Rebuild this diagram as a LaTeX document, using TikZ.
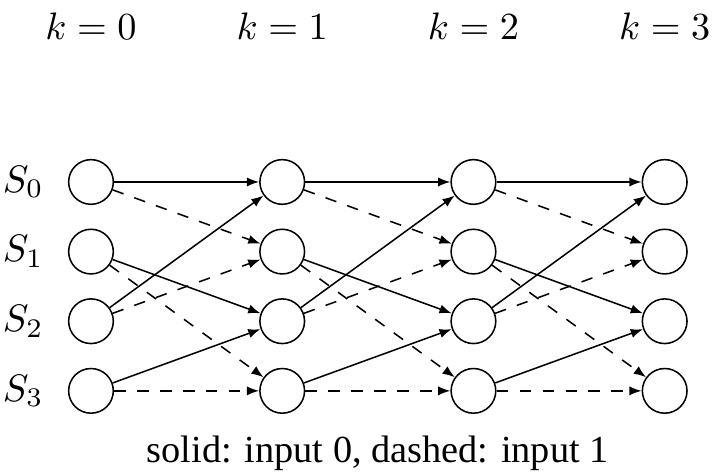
\documentclass[tikz,border=0pt]{standalone}
\usepackage[no-math]{fontspec}
\newfontfamily\captionfont{Liberation Serif}
\usetikzlibrary{positioning,arrows.meta}

\begin{document}
\begin{tikzpicture}[on grid, node distance=6.39mm and 17.55mm, state/.style={draw, circle, minimum size=4.1mm, inner sep=0pt}, statetag/.style={label={[label distance=2.8pt]left:#1}}, bitzero/.style={-{Latex[length=3.2pt, width=2.4pt]}}, bitone/.style={bitzero, dashed}]
\useasboundingbox (0,0) rectangle (6.534,-4.359);
% k = 0
\node[state, statetag=$S_0$] (a0) at (0.835,-1.670) {};
\node[state, statetag=$S_1$, below=of a0] (a1) {};
\node[state, statetag=$S_2$, below=of a1] (a2) {};
\node[state, statetag=$S_3$, below=of a2] (a3) {};
% k = 1
\node[state, right=of a0] (b0) {};
\node[state, right=of a1] (b1) {};
\node[state, right=of a2] (b2) {};
\node[state, right=of a3] (b3) {};
% k = 2
\node[state, right=of b0] (c0) {};
\node[state, right=of b1] (c1) {};
\node[state, right=of b2] (c2) {};
\node[state, right=of b3] (c3) {};
% k = 3
\node[state, right=of c0] (d0) {};
\node[state, right=of c1] (d1) {};
\node[state, right=of c2] (d2) {};
\node[state, right=of c3] (d3) {};
% stage labels
\node (k0) at (a0 |- 0,-0.245) {$k=0$};
\node (k1) at (b0 |- 0,-0.245) {$k=1$};
\node (k2) at (c0 |- 0,-0.245) {$k=2$};
\node (k3) at (d0 |- 0,-0.245) {$k=3$};
% transitions
\draw[bitzero] (a0) edge (b0) (a1) edge (b2) (a2) edge (b0) (a3) edge (b2);
\draw[bitone] (a0) edge (b1) (a1) edge (b3) (a2) edge (b1) (a3) edge (b3);
\draw[bitzero] (b0) edge (c0) (b1) edge (c2) (b2) edge (c0) (b3) edge (c2);
\draw[bitone] (b0) edge (c1) (b1) edge (c3) (b2) edge (c1) (b3) edge (c3);
\draw[bitzero] (c0) edge (d0) (c1) edge (d2) (c2) edge (d0) (c3) edge (d2);
\draw[bitone] (c0) edge (d1) (c1) edge (d3) (c2) edge (d1) (c3) edge (d3);
\node[font=\captionfont, anchor=base] (legend) at (3.467,-4.249) {solid: input 0, dashed: input 1};
\end{tikzpicture}
\end{document}
